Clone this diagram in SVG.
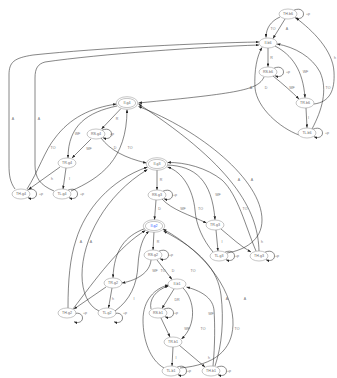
<svg xmlns="http://www.w3.org/2000/svg" width="337" height="378" viewBox="0 0 337 378">
<style>
.nd ellipse{fill:#fff;stroke:#8c8c8c;stroke-width:0.5}
.nd text{font-family:"Liberation Sans",Arial,sans-serif;font-size:3.6px;fill:#666;text-anchor:middle}
.e path{fill:none;stroke:#222;stroke-width:0.55;marker-end:url(#ah)}
.lb text{font-family:"Liberation Sans",Arial,sans-serif;font-size:3.6px;fill:#777;text-anchor:middle}
.lb text.s{text-anchor:start}
</style>
<defs>
<marker id="ah" markerUnits="userSpaceOnUse" markerWidth="3.4" markerHeight="2.6" refX="3.4" refY="1.3" orient="auto">
<path d="M0,0 L3.4,1.3 L0,2.6 z" fill="#222"/>
</marker>
</defs>
<rect width="337" height="378" fill="#fff"/>
<g id="connectors" class="e">
<!-- b6 -->
<path d="M280,17 C271,21 266,28 266,37.5"/>
<path d="M285,19 L273,38.5"/>
<path d="M294,10.2 C306,5 307,22 295,17.8"/>
<path d="M268,48 L268,66.8"/>
<path d="M274,68.2 C286,63 287,80 275,75.8"/>
<path d="M273,76 C283,84 292,92 299,99"/>
<path d="M275,46 C292,55 303,70 305,97.8"/>
<path d="M306,108 L307,127.8"/>
<path d="M313,129.2 C325,124 326,141 314,136.8"/>
<path d="M314,104 C330,102 335,90 334,72 C333,50 312,30 296,18"/>
<path d="M312,129 C322,110 328,90 320,72 C312,57 295,47 277,44"/>
<path d="M299,135 C280,128 257,108 255,88 C254,70 257,56 262,47.5"/>
<path d="M264,77 C258,90 240,93 138.5,103"/>
<path d="M15,189 C10,182 9,175 9,165 L9,75 C9,62 14,58 33,55 C100,48 200,43 259,42"/>
<path d="M54,191 C40,185 35,178 35,165 L35,78 C35,68 38,64 45,62 C100,54 200,47 259,45"/>
<!-- g4 -->
<path d="M121,108.5 L101.5,129"/>
<path d="M102,130.2 C114,125 115,142 103,137.8"/>
<path d="M91,139 L72,158"/>
<path d="M117,106 C88,112 68,125 68,158"/>
<path d="M60,167 L28.5,189.5"/>
<path d="M66,168 L63,189"/>
<path d="M27,190.2 C39,185 40,202 28,197.8"/>
<path d="M68,190.2 C80,185 81,202 69,197.8"/>
<path d="M27,189 C38,172 45,150 55,138 C70,118 90,108 116.5,104"/>
<path d="M71,191 C100,178 127,160 127,109.5"/>
<path d="M101,138 C110,150 125,158 146.5,163"/>
<!-- g3 -->
<path d="M157,169.5 L157,190"/>
<path d="M163,191.2 C175,186 176,203 164,198.8"/>
<path d="M156,200 L154.5,219.7"/>
<path d="M162,199 C172,210 190,215 206.5,223"/>
<path d="M167,165 C195,166 212,180 215,219.8"/>
<path d="M216,230 L218,251"/>
<path d="M221,229 C232,238 240,246 251,252"/>
<path d="M225,252.2 C237,247 238,264 226,259.8"/>
<path d="M265,252.2 C277,247 278,264 266,259.8"/>
<path d="M213,252 C203,240 196,225 195,210 C193,190 183,172 167.5,167"/>
<path d="M256,251 C245,225 238,195 222,180 C207,168 185,162 167.5,162.5"/>
<path d="M227,253 C245,250 262,240 262,220 C262,180 200,130 138.5,106.5"/>
<path d="M259,251 C258,215 240,170 138.5,104"/>
<path d="M68,308 C68,280 70,258 76,240 C85,210 110,180 147.5,167"/>
<path d="M99,311 C88,306 82,292 82,275 C82,240 105,195 147.5,169.5"/>
<!-- g2 -->
<path d="M154,231.5 L153,250"/>
<path d="M159,251.2 C171,246 172,263 160,258.8"/>
<path d="M151,260 C150,272 138,280 122,283"/>
<path d="M157,260 L172,279.5"/>
<path d="M145,228.5 C125,236 114,250 113,277.8"/>
<path d="M106,287 L74,309"/>
<path d="M112,288 L108.5,308"/>
<path d="M73,314.2 C85,309 86,326 74,321.8"/>
<path d="M113,314.2 C125,309 126,326 114,321.8"/>
<path d="M73,309 C95,280 120,245 145.5,230.5"/>
<path d="M115,311 C130,300 137,285 138,265 C139,248 143,237 149,231"/>
<path d="M180,368 C215,365 232,350 233,325 C234,295 210,255 163,229"/>
<path d="M215,366 C222,345 224,320 221,295 C218,270 200,250 163.5,231"/>
<!-- b1 -->
<path d="M174,289 L162,308.5"/>
<path d="M151,309 C149,300 155,290 168.5,286"/>
<path d="M164,309.2 C176,304 177,321 165,316.8"/>
<path d="M161,318 L170,337"/>
<path d="M183,288 C195,300 197,325 181.5,339"/>
<path d="M173,347 L172,366"/>
<path d="M179,345 L205,367"/>
<path d="M177,367.2 C189,362 190,379 178,374.8"/>
<path d="M217,367.2 C229,362 230,379 218,374.8"/>
<path d="M164,368 C150,360 143,340 143,320 C143,300 155,288 168.5,285"/>
<path d="M213,366 C215,345 215,325 214,310 C213,300 205,292 186.5,287"/>
</g>
<g id="labels" class="lb">
<text x="273" y="30">TO</text><text x="287" y="30">A</text><text class="s" x="306" y="15.3">+p</text>
<text x="271.5" y="59">R</text><text class="s" x="286" y="73.3">+p</text>
<text x="292" y="88.5">WF</text><text x="305.5" y="73">WF</text>
<text x="308.5" y="119">I</text><text class="s" x="325" y="134.3">+p</text>
<text x="335" y="59">h</text><text x="328" y="89">TO</text>
<text x="251" y="89">A</text><text x="266" y="89">D</text>
<text x="13" y="119.5">A</text><text x="39" y="119.5">A</text>
<text x="117" y="120">R</text><text class="s" x="110" y="135.3">+p</text>
<text x="89" y="150">WF</text><text x="77.5" y="134.5">WF</text>
<text x="52" y="179.5">h</text><text x="69.5" y="179.5">I</text>
<text class="s" x="39" y="195.3">+p</text><text class="s" x="80" y="195.3">+p</text>
<text x="53" y="149">TO</text><text x="130" y="149">TO</text><text x="115" y="148.5">D</text>
<text x="161" y="181">R</text><text class="s" x="173" y="196.3">+p</text>
<text x="159.5" y="210">D</text><text x="183" y="210">WF</text><text x="218" y="195.5">WF</text>
<text x="222" y="242.5">I</text><text x="262" y="243">h</text>
<text class="s" x="235" y="257.3">+p</text><text class="s" x="275" y="257.3">+p</text>
<text x="200.5" y="210">TO</text><text x="245" y="210">TO</text>
<text x="252" y="181">A</text><text x="239" y="181">A</text>
<text x="81" y="242.5">A</text><text x="91" y="242.5">A</text>
<text x="158" y="242.5">R</text><text class="s" x="169" y="256.3">+p</text>
<text x="155" y="272">WF</text><text x="163" y="272">TO</text><text x="173" y="272">D</text><text x="193" y="272">TO</text>
<text x="113" y="300">h</text><text x="134" y="300">I</text>
<text class="s" x="83" y="314.3">+p</text><text class="s" x="123" y="314.3">+p</text>
<text x="227" y="300">A</text><text x="245" y="300">A</text><text x="237" y="329.5">TO</text>
<text x="177" y="300.5">DR</text><text class="s" x="174" y="314.3">+p</text>
<text x="187" y="329.5">WF</text><text x="203" y="329.5">TO</text><text x="211" y="314.5">WF</text>
<text x="176" y="359">I</text><text x="209" y="359">h</text>
<text class="s" x="187" y="372.3">+p</text><text class="s" x="227" y="372.3">+p</text>
</g>
<g id="TH_b6" class="nd"><ellipse cx="288" cy="14" rx="9" ry="5"/><text x="288" y="15.3">TH.b6</text></g>
<g id="II_b6" class="nd"><ellipse cx="268" cy="43" rx="9" ry="5"/><text x="268" y="44.3">II.b6</text></g>
<g id="RS_b6" class="nd"><ellipse cx="268" cy="72" rx="9" ry="5"/><text x="268" y="73.3">RS.b6</text></g>
<g id="TR_b6" class="nd"><ellipse cx="305" cy="103" rx="9" ry="5"/><text x="305" y="104.3">TR.b6</text></g>
<g id="TL_b6" class="nd"><ellipse cx="307" cy="133" rx="9" ry="5"/><text x="307" y="134.3">TL.b6</text></g>
<g id="II_g4" class="nd"><ellipse cx="127" cy="103" rx="10.8" ry="6.3"/><ellipse cx="127" cy="103" rx="8.7" ry="4.6"/><text x="127" y="104.3">II.g4</text></g>
<g id="RS_g4" class="nd"><ellipse cx="96" cy="134" rx="9" ry="5"/><text x="96" y="135.3">RS.g4</text></g>
<g id="TR_g4" class="nd"><ellipse cx="67" cy="163" rx="9" ry="5"/><text x="67" y="164.3">TR.g4</text></g>
<g id="TH_g4" class="nd"><ellipse cx="21" cy="194" rx="9" ry="5"/><text x="21" y="195.3">TH.g4</text></g>
<g id="TL_g4" class="nd"><ellipse cx="62" cy="194" rx="9" ry="5"/><text x="62" y="195.3">TL.g4</text></g>
<g id="II_g3" class="nd"><ellipse cx="157" cy="164" rx="10.8" ry="6.3"/><ellipse cx="157" cy="164" rx="8.7" ry="4.6"/><text x="157" y="165.3">II.g3</text></g>
<g id="RS_g3" class="nd"><ellipse cx="157" cy="195" rx="9" ry="5"/><text x="157" y="196.3">RS.g3</text></g>
<g id="TR_g3" class="nd"><ellipse cx="215" cy="225" rx="9" ry="5"/><text x="215" y="226.3">TR.g3</text></g>
<g id="TL_g3" class="nd"><ellipse cx="219" cy="256" rx="9" ry="5"/><text x="219" y="257.3">TL.g3</text></g>
<g id="TH_g3" class="nd"><ellipse cx="259" cy="256" rx="9" ry="5"/><text x="259" y="257.3">TH.g3</text></g>
<g id="II_g2" class="nd"><ellipse cx="154" cy="226" rx="10.8" ry="6.3"/><ellipse cx="154" cy="226" rx="8.7" ry="4.6"/><text x="154" y="227.3" style="fill:#2a4cff">II.g2</text></g>
<g id="RS_g2" class="nd"><ellipse cx="153" cy="255" rx="9" ry="5"/><text x="153" y="256.3">RS.g2</text></g>
<g id="TR_g2" class="nd"><ellipse cx="113" cy="283" rx="9" ry="5"/><text x="113" y="284.3">TR.g2</text></g>
<g id="TH_g2" class="nd"><ellipse cx="67" cy="313" rx="9" ry="5"/><text x="67" y="314.3">TH.g2</text></g>
<g id="TL_g2" class="nd"><ellipse cx="107" cy="313" rx="9" ry="5"/><text x="107" y="314.3">TL.g2</text></g>
<g id="II_b1" class="nd"><ellipse cx="177" cy="284" rx="9" ry="5"/><text x="177" y="285.3">II.b1</text></g>
<g id="RS_b1" class="nd"><ellipse cx="158" cy="313" rx="9" ry="5"/><text x="158" y="314.3">RS.b1</text></g>
<g id="TR_b1" class="nd"><ellipse cx="173" cy="342" rx="9" ry="5"/><text x="173" y="343.3">TR.b1</text></g>
<g id="TL_b1" class="nd"><ellipse cx="171" cy="371" rx="9" ry="5"/><text x="171" y="372.3">TL.b1</text></g>
<g id="TH_b1" class="nd"><ellipse cx="211" cy="371" rx="9" ry="5"/><text x="211" y="372.3">TH.b1</text></g>
</svg>
